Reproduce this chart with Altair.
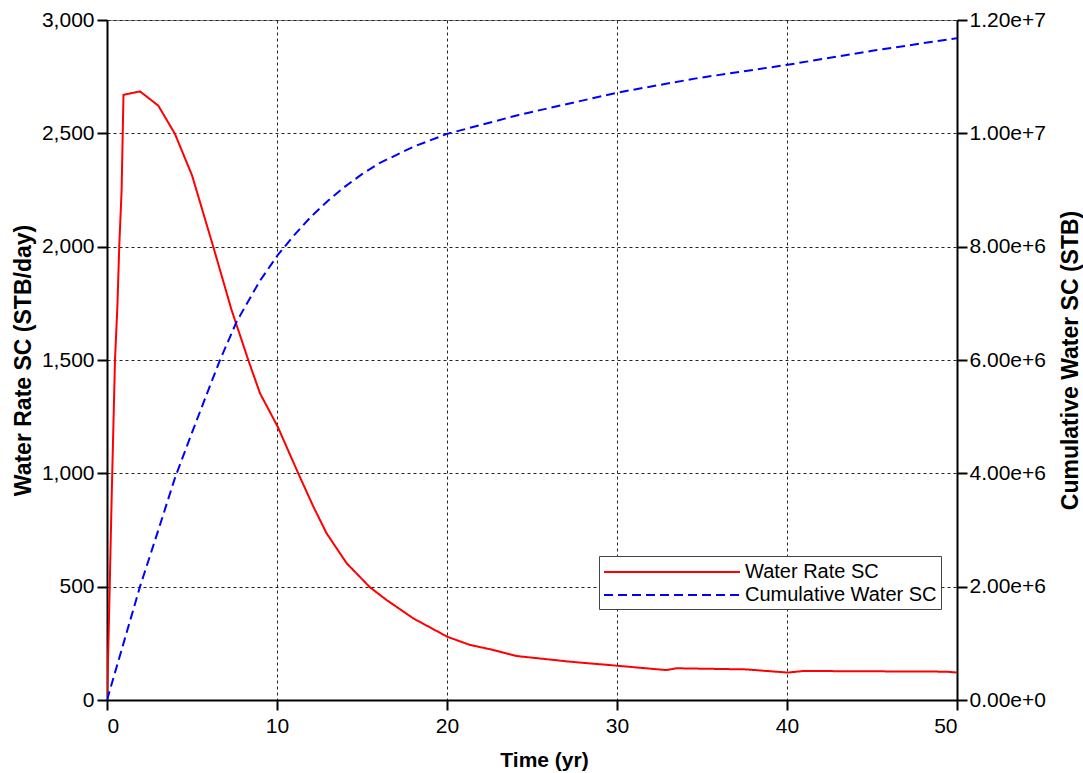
import altair as alt
import pandas as pd

# Water rate (STB/day) vs time (yr)
rate_t = [0, 0.1, 0.27, 0.47, 0.61, 0.72, 0.86, 0.97, 1.94, 3.02, 4.0, 5.0, 6.25, 7.33,
          8.31, 9.0, 10.04, 11.25, 12.14, 12.92, 14.1, 15.47, 16.45, 18.02, 20.02, 21.35,
          22.53, 24.1, 27.24, 30.04, 32.9, 33.5, 37.6, 40.04, 40.96, 49.4, 50]
rate_v = [0, 300, 880, 1500, 1735, 2000, 2250, 2670, 2685, 2622, 2497, 2315, 2000, 1720,
          1500, 1353, 1206, 1000, 853, 735, 603, 497, 441, 360, 279, 243,
          224, 194, 169, 151, 132, 140, 135, 121, 128, 125, 121]

# Cumulative water (STB) vs time (yr)
cum_t = [0, 1, 1.94, 3, 4, 5, 6, 6.65, 7.63, 9, 10.04, 11, 12, 13, 14, 15, 16, 18, 20,
         24.16, 30.04, 34.66, 40.04, 45.1, 50]
cum_v = [0, 1.03e6, 2.0e6, 2.98e6, 3.92e6, 4.72e6, 5.5e6, 6.0e6, 6.68e6, 7.4e6, 7.85e6,
         8.2e6, 8.53e6, 8.81e6, 9.06e6, 9.28e6, 9.47e6, 9.76e6, 9.99e6, 10.32e6,
         10.72e6, 10.97e6, 11.21e6, 11.46e6, 11.68e6]

series_names = ["Water Rate SC", "Cumulative Water SC"]
series_colors = ["#ff0000", "#0000ff"]
series_dash = [[1, 0], [9, 5]]

x_ticks = [0, 10, 20, 30, 40, 50]
left_ticks = [0, 500, 1000, 1500, 2000, 2500, 3000]
right_ticks = [0, 2e6, 4e6, 6e6, 8e6, 1e7, 1.2e7]

rate_df = pd.DataFrame({"t": rate_t, "rate": rate_v, "series": series_names[0]})
cum_df = pd.DataFrame({"t": cum_t, "cum": cum_v, "series": series_names[1]})

FONT = "Liberation Sans"

# long horizontal line symbol (custom path scaled by sqrt(size)/2 = 11)
legend = alt.Legend(
    title=None, orient="none", legendX=492, legendY=536,
    symbolType="M-1,0H11.364", symbolSize=484, symbolStrokeWidth=2,
    labelFontSize=20, labelFont=FONT, labelColor="black", labelLimit=400,
    strokeColor="#444444", fillColor="white", padding=4, rowPadding=1,
    labelOffset=118, offset=0,
)
color = alt.Color("series:N", scale=alt.Scale(domain=series_names, range=series_colors), legend=legend)
dash = alt.StrokeDash("series:N", scale=alt.Scale(domain=series_names, range=series_dash), legend=legend)

x_enc = alt.X(
    "t:Q", scale=alt.Scale(domain=[0, 50], nice=False),
    axis=alt.Axis(title="Time (yr)", values=x_ticks, format="d", grid=True,
                  titleX=437, titleY=60, titleBaseline="middle", titleFontSize=21,
                  labelPadding=5),
)

rate_line = alt.Chart(rate_df).mark_line(strokeWidth=2, clip=True).encode(
    x=x_enc,
    y=alt.Y("rate:Q", scale=alt.Scale(domain=[0, 3000], nice=False),
            axis=alt.Axis(title="Water Rate SC (STB/day)", values=left_ticks,
                          labelExpr="format(datum.value, ',')",
                          orient="left", grid=True, titleAngle=-90, titleX=-84, titleY=340,
                          titleAlign="center", titleBaseline="middle", titleFontSize=23,
                          labelPadding=3)),
    color=color, strokeDash=dash,
)

cum_line = alt.Chart(cum_df).mark_line(strokeWidth=2, clip=True).encode(
    x=x_enc,
    y=alt.Y("cum:Q", scale=alt.Scale(domain=[0, 1.2e7], nice=False),
            axis=alt.Axis(title="Cumulative Water SC (STB)", values=right_ticks,
                          labelExpr="format(datum.value, '.2e')",
                          orient="right", grid=False, titleAngle=-90, titleX=113, titleY=340,
                          titleAlign="center", titleBaseline="middle", titleFontSize=23,
                          labelPadding=2)),
    color=color, strokeDash=dash,
)

chart = alt.layer(rate_line, cum_line).resolve_scale(y="independent").properties(
    width=850, height=680,
    autosize=alt.AutoSizeParams(type="none"),
    padding={"left": 107, "top": 20, "right": 126, "bottom": 73},
    background="white",
).configure_view(
    stroke="#888888", strokeWidth=1,
).configure_axis(
    labelFont=FONT, titleFont=FONT, labelFontSize=21, titleFontWeight="bold",
    labelColor="black", titleColor="black",
    domainColor="black", domainWidth=2, tickColor="black", tickWidth=2, tickSize=10,
    gridColor="#222222", gridDash=[3, 3], gridWidth=1, gridOpacity=1,
)

chart.save("out.html", embed_options={"renderer": "svg", "actions": False})
